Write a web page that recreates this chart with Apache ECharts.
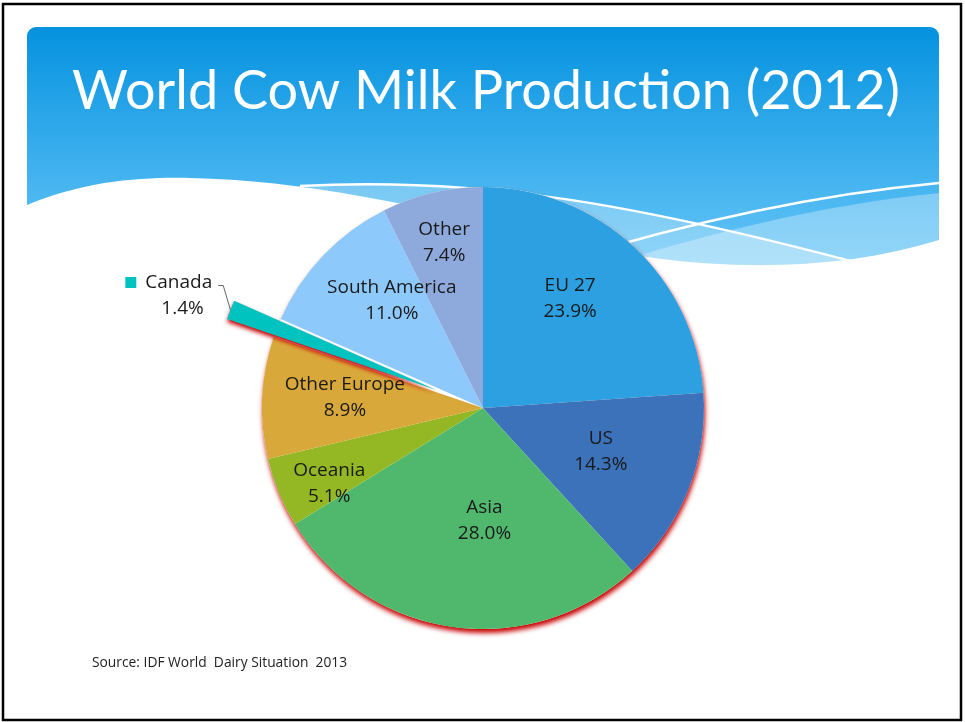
<!DOCTYPE html>
<html>
<head>
<meta charset="utf-8">
<script src="https://cdn.jsdelivr.net/npm/echarts@6/dist/echarts.min.js"></script>
<style>
html,body{margin:0;padding:0;background:#fff;}
#chart{width:965px;height:722px;}
</style>
</head>
<body>
<div id="chart"></div>
<script>
// ---- data ----
const categories = ['EU 27', 'US', 'Asia', 'Oceania', 'Other Europe', 'Canada', 'South America', 'Other'];
const shares = [23.9, 14.3, 28.0, 5.1, 8.9, 1.4, 11.0, 7.4];
const titleText = 'World Cow Milk Production (2012)';
const sourceText = 'Source: IDF World  Dairy Situation  2013';

// ---- styles ----
const colors = ['#2ca0e0', '#3b72b9', '#50b86c', '#93b824', '#d9a83a', '#00c3c0', '#8dc9fb', '#8eaadc'];
// label placement: radius as fraction of pie radius, and angular shift (deg) from the slice mid-angle
const labelRadius = [0.618, 0.554, 0.495, 0.761, 0.613, 0, 0.625, 0.755];
const labelShift = [-4.5, -1.7, -8.9, -3.6, 1.5, 0, 6.3, 0.1];
const explodedName = 'Canada';
const CX = 483, CY = 408, R = 221;
const LABEL_FONT = 19;

// decorative path shape for the slide header
echarts.graphic.registerShape('cmdPath', echarts.graphic.extendShape({
  shape: { cmds: [] },
  buildPath: function (ctx, shape) {
    shape.cmds.forEach(c => {
      if (c[0] === 'M') ctx.moveTo(c[1], c[2]);
      else if (c[0] === 'L') ctx.lineTo(c[1], c[2]);
      else if (c[0] === 'C') ctx.bezierCurveTo(c[1], c[2], c[3], c[4], c[5], c[6]);
      else if (c[0] === 'Q') ctx.quadraticCurveTo(c[1], c[2], c[3], c[4]);
      else if (c[0] === 'Z') ctx.closePath();
    });
  }
}));

const total = shares.reduce((a, b) => a + b, 0);
const midAngles = [];
(function () {
  let c = 0;
  shares.forEach(v => { midAngles.push((c + v / 2) / total * Math.PI * 2); c += v; });
})();

const chart = echarts.init(document.getElementById('chart'), null, { renderer: 'canvas' });

const pieData = categories.map((name, i) => {
  const item = { name: name, value: shares[i], itemStyle: { color: colors[i] } };
  if (name === explodedName) {
    item.selected = true;
    item.itemStyle = {
      color: colors[i],
      shadowColor: 'rgba(200,0,0,1)', shadowBlur: 4, shadowOffsetX: 0, shadowOffsetY: 3
    };
    item.label = {
      show: true, position: 'outside',
      formatter: p => '{sq|}{n|' + p.name + '}\n{v|' + p.value.toFixed(1) + '%}',
      rich: {
        sq: { width: 11, height: 11, backgroundColor: colors[i] },
        n: { fontSize: LABEL_FONT, fontFamily: 'Open Sans', color: '#1a1a1a', padding: [0, 0, 0, 9] },
        v: { fontSize: LABEL_FONT, fontFamily: 'Open Sans', color: '#1a1a1a', align: 'left', lineHeight: 26, padding: [0, 0, 0, 36] }
      }
    };
    item.labelLine = { show: true, length: 12, length2: 5, smooth: false, lineStyle: { color: '#666', width: 1 } };
  }
  return item;
});

const option = {
  animation: false,
  backgroundColor: '#fff',
  graphic: [
    { type: 'rect', z: 0, shape: { x: 27, y: 27, width: 912, height: 270, r: [9, 9, 0, 0] },
      style: { fill: new echarts.graphic.LinearGradient(0, 0, 0, 1, [
        { offset: 0, color: '#0592df' }, { offset: 0.5, color: '#3db0ee' }, { offset: 1, color: '#72cbf8' }]) } },
    { type: 'cmdPath', z: 0, shape: { cmds: [['M', 280, 188], ['C', 450, 172, 650, 205, 870, 266], ['L', 870, 300], ['L', 280, 300], ['Z']] },
      style: { fill: 'rgba(255,255,255,0.28)' } },
    { type: 'cmdPath', z: 0, shape: { cmds: [['M', 600, 268], ['C', 700, 235, 820, 205, 939, 193], ['L', 939, 300], ['L', 600, 300], ['Z']] },
      style: { fill: 'rgba(255,255,255,0.3)' } },
    { type: 'cmdPath', z: 0, shape: { cmds: [['M', 300, 186], ['C', 480, 176, 640, 205, 862, 264]] },
      style: { fill: null, stroke: '#fff', lineWidth: 2.5 } },
    { type: 'cmdPath', z: 0, shape: { cmds: [['M', 560, 262], ['Q', 760, 200, 939, 183]] },
      style: { fill: null, stroke: '#fff', lineWidth: 2.5 } },
    { type: 'cmdPath', z: 0, shape: { cmds: [['M', 27, 205], ['C', 85, 181, 140, 177, 190, 178], ['C', 300, 180, 420, 205, 560, 240], ['C', 680, 270, 820, 277, 939, 240], ['L', 939, 310], ['L', 27, 310], ['Z']] },
      style: { fill: '#fff' } },
    { type: 'text', z: 5, style: { text: titleText, x: 486, y: 92, fill: '#fff', fontSize: 54, fontFamily: 'Lato', align: 'center', verticalAlign: 'middle' } },
    { type: 'text', z: 5, style: { text: sourceText, x: 92, y: 663, fill: '#222', fontSize: 13.8, fontFamily: 'Open Sans', align: 'left', verticalAlign: 'middle' } },
    { type: 'rect', z: 5, shape: { x: 3, y: 4, width: 958, height: 716 },
      style: { fill: null, stroke: '#000', lineWidth: 2.5 } }
  ],
  series: [
    {
      type: 'pie', z: 2, silent: true, center: [CX, CY], radius: R,
      label: { show: false }, labelLine: { show: false },
      data: [{ value: 1, name: '', itemStyle: { color: '#fff', shadowColor: 'rgba(200,0,0,1)', shadowBlur: 5, shadowOffsetX: 1, shadowOffsetY: 4 } }]
    },
    {
      type: 'pie', z: 3, center: [CX, CY], radius: R,
      startAngle: 90, clockwise: true,
      selectedMode: 'single', selectedOffset: 50,
      avoidLabelOverlap: false,
      emphasis: { disabled: true },
      itemStyle: { borderWidth: 0 },
      label: {
        show: true, position: 'inside',
        fontSize: LABEL_FONT, fontFamily: 'Open Sans', color: '#1a1a1a', lineHeight: 26,
        formatter: p => p.name + '\n' + p.value.toFixed(1) + '%'
      },
      labelLine: { show: false },
      labelLayout: function (params) {
        const i = params.dataIndex;
        if (categories[i] === explodedName) {
          const pts = params.labelLinePoints;
          const ldy = -20;
          if (pts && pts.length === 3) {
            return {
              dx: 3, dy: -10,
              labelLinePoints: [pts[0], [pts[1][0] + 4, pts[1][1] + ldy], [pts[2][0] + 4, pts[2][1] + ldy]]
            };
          }
          return { dx: 3, dy: -10 };
        }
        const a = midAngles[i];
        const b = a + labelShift[i] * Math.PI / 180;
        const f = labelRadius[i] * R;
        return {
          dx: f * Math.sin(b) - (R / 2) * Math.sin(a),
          dy: -f * Math.cos(b) + (R / 2) * Math.cos(a)
        };
      },
      data: pieData
    }
  ]
};
chart.setOption(option);
</script>
</body>
</html>
